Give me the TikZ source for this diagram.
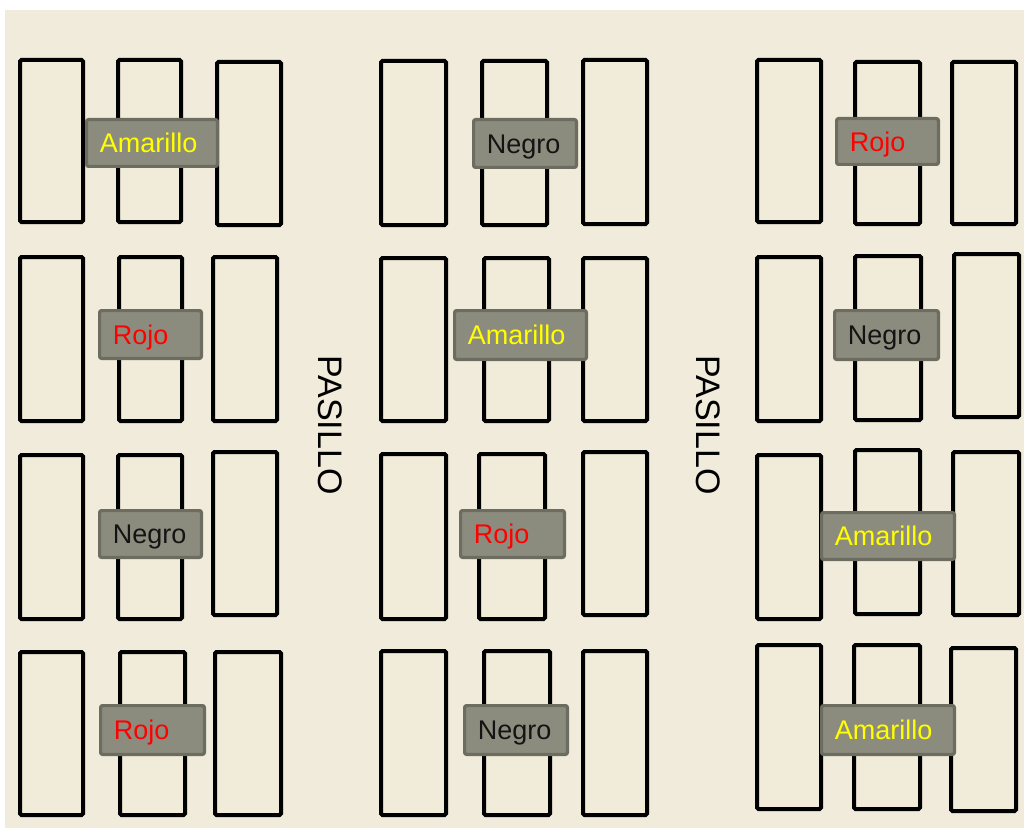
\documentclass[tikz,border=0pt]{standalone}
\usepackage{fontspec}
\setmainfont{Liberation Sans}

\definecolor{fondo}{HTML}{F0EBDA}
\definecolor{mesafill}{HTML}{F1EBD9}
\definecolor{etqfill}{HTML}{8C8C7E}
\definecolor{etqborde}{HTML}{6C6C60}
\definecolor{amarillo}{HTML}{FFFF00}
\definecolor{rojo}{HTML}{FF0000}
\definecolor{negro}{HTML}{141414}

\tikzset{
  mesa/.style={draw=black, line width=4pt, fill=mesafill, rounded corners=1.5pt,
    inner sep=0pt, outer sep=0pt},
  etiqueta/.style={draw=etqborde, line width=3.2pt, fill=etqfill, rounded corners=2pt,
    inner sep=0pt, outer sep=0pt},
  rotulo/.style={font=\fontsize{27}{27}\selectfont, inner sep=0pt, anchor=base west},
  pasillo/.style={font=\fontsize{34}{34}\selectfont, rotate=-90, inner sep=0pt, text=black}
}

% table given by its outer corners (x1,y1) (x2,y2), in pixels, y downwards
\newcommand\mesaRect[5]{%
  \node[mesa, minimum width={(#4-#2-4)*1pt}, minimum height={(#5-#3-4)*1pt}]
    (#1) at ({(#2+#4)/2},{(#3+#5)/2}) {};}
% label box by outer corners, then its coloured word
\newcommand\etq[7]{%
  \node[etiqueta, minimum width={(#4-#2-3.2)*1pt}, minimum height={(#5-#3-3.2)*1pt}]
    (#1) at ({(#2+#4)/2},{(#3+#5)/2}) {};
  \node[rotulo, text=#6] (#1t) at ([xshift=13pt, yshift=-9.8pt]#1.west) {#7};}

\begin{document}
\begin{tikzpicture}[x=1pt, y=-1pt]
  \useasboundingbox (0,0) rectangle (1024,829);
  \fill[white] (0,0) rectangle (1024,829);
  \fill[fondo] (5,10) rectangle (1024,828);

  % left block
  \mesaRect{la1}{18}{58}{85}{224}   \mesaRect{lb1}{116}{58}{183}{224}  \mesaRect{lc1}{215}{60}{283}{227}
  \mesaRect{la2}{18}{255}{85}{423}  \mesaRect{lb2}{117}{255}{184}{423} \mesaRect{lc2}{211}{255}{279}{423}
  \mesaRect{la3}{18}{453}{85}{621}  \mesaRect{lb3}{116}{453}{184}{621} \mesaRect{lc3}{211}{450}{279}{617}
  \mesaRect{la4}{18}{650}{85}{817}  \mesaRect{lb4}{118}{650}{187}{817} \mesaRect{lc4}{213}{650}{283}{817}

  % middle block
  \mesaRect{ma1}{379}{59}{448}{227}  \mesaRect{mb1}{480}{59}{549}{227}  \mesaRect{mc1}{581}{58}{649}{226}
  \mesaRect{ma2}{379}{256}{448}{423} \mesaRect{mb2}{482}{256}{551}{423} \mesaRect{mc2}{581}{256}{649}{423}
  \mesaRect{ma3}{379}{452}{448}{621} \mesaRect{mb3}{477}{452}{547}{621} \mesaRect{mc3}{581}{450}{649}{617}
  \mesaRect{ma4}{379}{649}{448}{817} \mesaRect{mb4}{482}{649}{552}{817} \mesaRect{mc4}{581}{649}{649}{817}

  % right block
  \mesaRect{ra1}{755}{58}{823}{224}  \mesaRect{rb1}{853}{60}{922}{226}  \mesaRect{rc1}{950}{60}{1018}{226}
  \mesaRect{ra2}{755}{255}{823}{423} \mesaRect{rb2}{853}{254}{923}{422} \mesaRect{rc2}{952}{252}{1021}{419}
  \mesaRect{ra3}{755}{453}{823}{621} \mesaRect{rb3}{853}{448}{922}{616} \mesaRect{rc3}{951}{450}{1021}{617}
  \mesaRect{ra4}{755}{643}{823}{811} \mesaRect{rb4}{852}{643}{922}{811} \mesaRect{rc4}{949}{646}{1018}{813}

  % colour labels
  \etq{el1}{85}{118}{219}{168}{amarillo}{Amarillo}
  \etq{el2}{98}{309}{203}{360}{rojo}{Rojo}
  \etq{el3}{98}{509}{203}{559}{negro}{Negro}
  \etq{el4}{99}{704}{206}{756}{rojo}{Rojo}

  \etq{em1}{472}{118}{578}{169}{negro}{Negro}
  \etq{em2}{453}{309}{588}{361}{amarillo}{Amarillo}
  \etq{em3}{459}{509}{566}{559}{rojo}{Rojo}
  \etq{em4}{463}{704}{569}{756}{negro}{Negro}

  \etq{er1}{835}{117}{940}{166}{rojo}{Rojo}
  \etq{er2}{833}{309}{940}{361}{negro}{Negro}
  \etq{er3}{820}{511}{956}{561}{amarillo}{Amarillo}
  \etq{er4}{820}{704}{956}{756}{amarillo}{Amarillo}

  % aisles
  \node[pasillo] (p1) at (330,425) {PASILLO};
  \node[pasillo] (p2) at (708,425) {PASILLO};
\end{tikzpicture}
\end{document}
